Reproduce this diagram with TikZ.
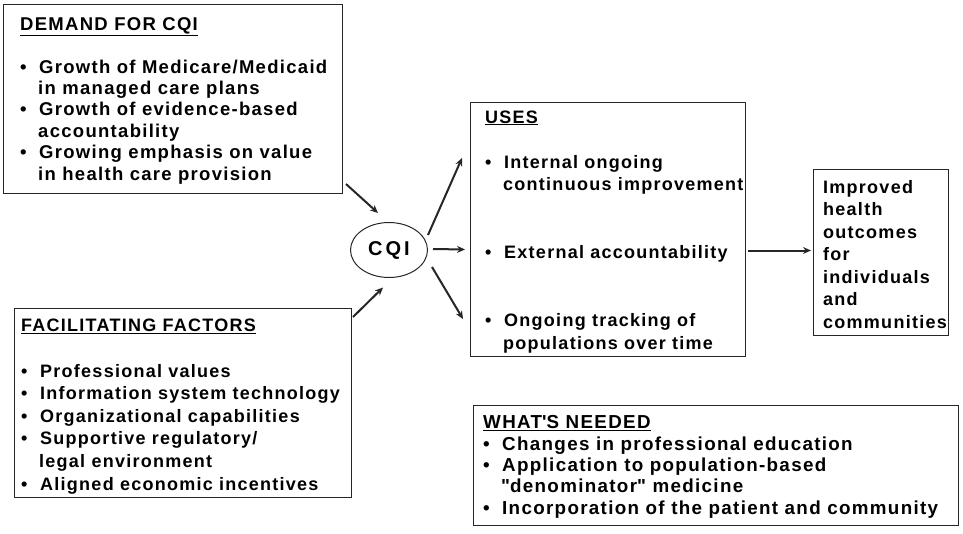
\documentclass[tikz,border=0pt]{standalone}
\usepackage{fontspec}
\setmainfont{Liberation Sans}[LetterSpace=7]
\usetikzlibrary{shapes.geometric,arrows.meta}

\tikzset{
  panel/.style={draw=black!85, line width=1pt, anchor=north west, inner sep=0pt},
  txt/.style 2 args={font=\bfseries\fontsize{#1}{#2}\selectfont, align=left, anchor=base west, inner sep=0pt},
  flow/.style={draw=black!85, line width=2pt, -{Stealth[length=8pt,width=7pt]}},
}
% bullet and hanging indent for the item lists
\newcommand{\itm}{\makebox[19pt][l]{•}}
\newcommand{\cont}{\hspace*{18pt}}

\begin{document}
\begin{tikzpicture}[x=1pt,y=-1pt]
	\useasboundingbox (0,0) rectangle (963,533);

	% frames
	\node[panel, minimum width=339pt, minimum height=189pt] (demand) at (3,4) {};
	\node[panel, minimum width=337pt, minimum height=189pt] (facil) at (14,308) {};
	\node[panel, minimum width=275pt, minimum height=254pt] (uses) at (470,102) {};
	\node[panel, minimum width=135pt, minimum height=166pt] (outcome) at (813,169) {};
	\node[panel, minimum width=485pt, minimum height=120pt] (needed) at (473,405) {};
	\node[ellipse, draw=black!85, line width=1pt, minimum width=77pt, minimum height=55pt, inner sep=0pt,
		font=\bfseries\fontsize{20}{22}\selectfont\addfontfeature{LetterSpace=15}] (cqi) at (389,250) {CQI};

	% texts (placed at the baseline of their last line)
	\node[txt={18.5}{21.4}] (demandtxt) at (20,180) {\underline{DEMAND FOR CQI}\\[21.4pt]
		\itm Growth of Medicare/Medicaid\\ \cont in managed care plans\\
		\itm Growth of evidence-based\\ \cont accountability\\
		\itm Growing emphasis on value\\ \cont in health care provision};
	\node[txt={18}{22.6}] (faciltxt) at (21,490) {\underline{FACILITATING FACTORS}\\[22.6pt]
		\itm Professional values\\
		\itm Information system technology\\
		\itm Organizational capabilities\\
		\itm Supportive regulatory/\\ \cont legal environment\\
		\itm Aligned economic incentives};
	\node[txt={18}{22.6}] (usestxt) at (485,349) {\underline{USES}\\[22.6pt]
		\itm Internal ongoing\\ \cont continuous improvement\\[45.2pt]
		\itm External accountability\\[45.2pt]
		\itm Ongoing tracking of\\ \cont populations over time};
	\node[txt={18}{22.5}] (outcometxt) at (823,328) {Improved\\health\\outcomes\\for\\individuals\\and\\communities};
	\node[txt={18.8}{21.3}] (neededtxt) at (483,514) {\underline{WHAT\textquotesingle S NEEDED}\\
		\itm Changes in professional education\\
		\itm Application to population-based\\ \cont \textquotedbl denominator\textquotedbl{} medicine\\
		\itm Incorporation of the patient and community};

	% arrows
	\draw[flow] ([shift={(3,-10)}]demand.south east) -- ([shift={(-11,-9)}]cqi.north);
	\draw[flow] ([shift={(1,9)}]facil.north east) -- ([shift={(-6,9.5)}]cqi.south);
	\draw[flow] ([shift={(0,-15)}]cqi.east) -- ([shift={(-8,56)}]uses.north west);
	\draw[flow] ([shift={(5,-1)}]cqi.east) -- ([shift={(-5,20)}]uses.west);
	\draw[flow] ([shift={(4,17)}]cqi.east) -- ([shift={(-7,-38)}]uses.south west);
	\draw[flow] ([shift={(2,21)}]uses.east) -- ([shift={(-2,-2)}]outcome.west);
\end{tikzpicture}
\end{document}
